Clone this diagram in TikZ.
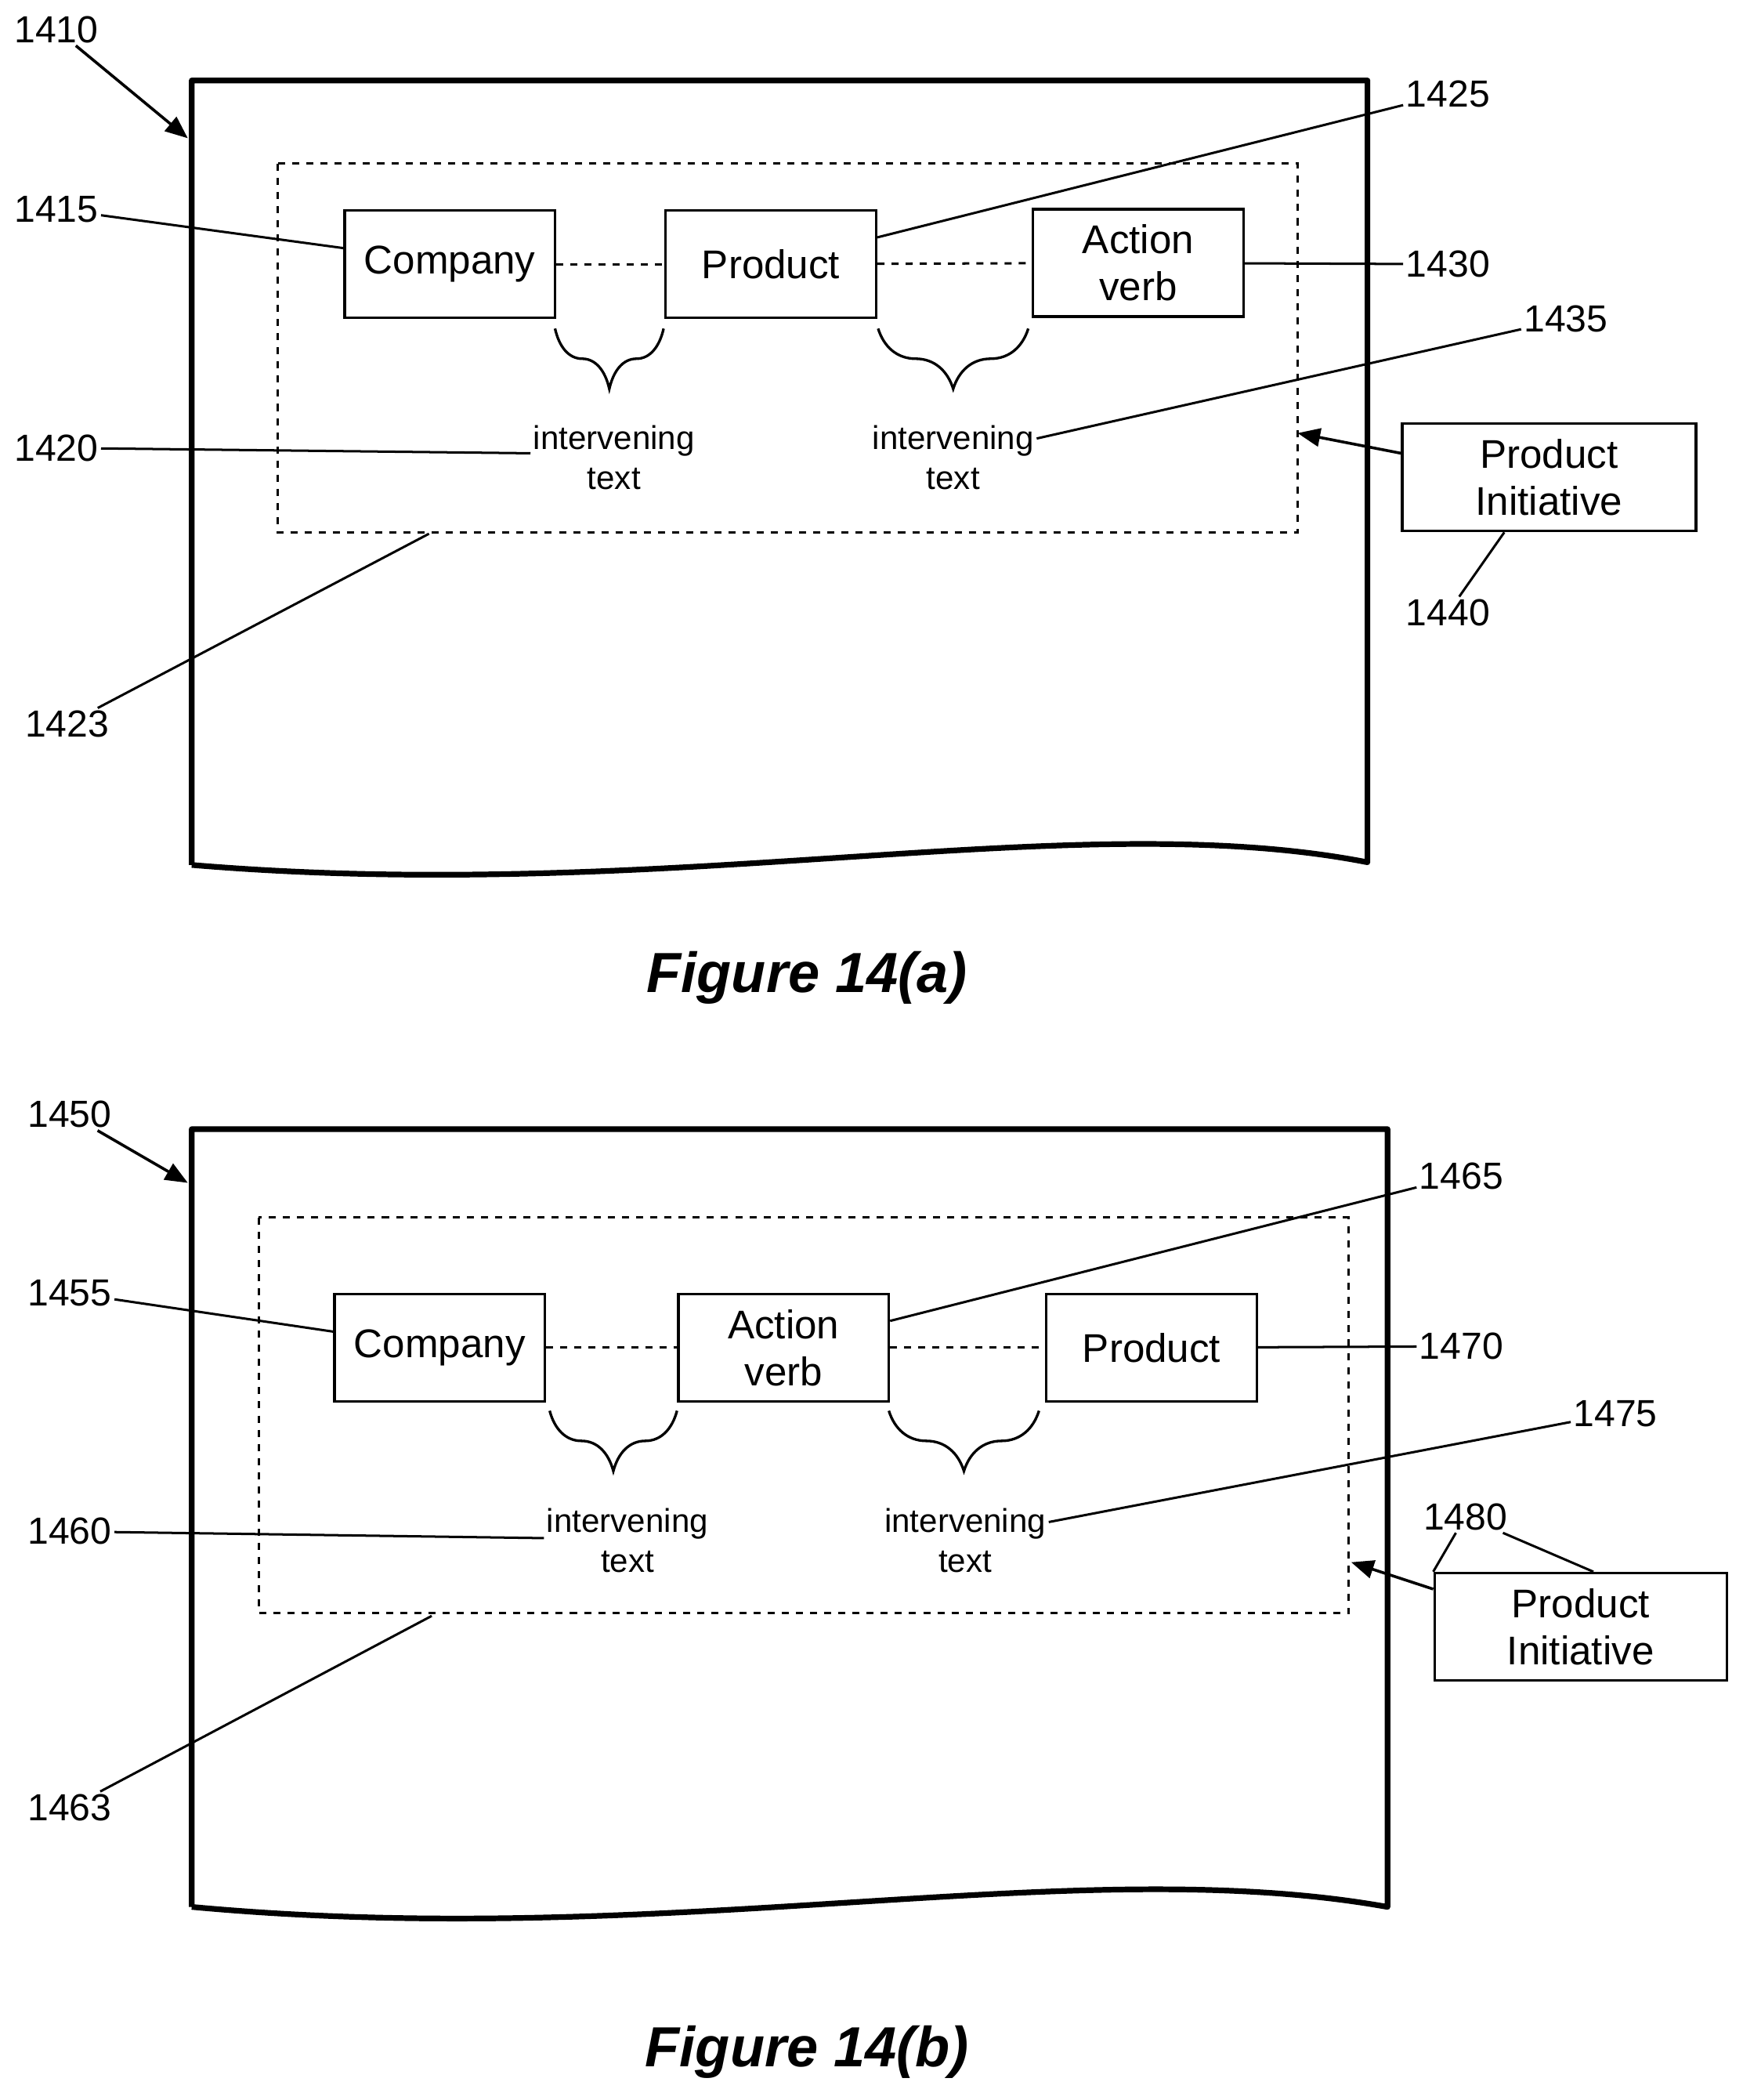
\documentclass[tikz,border=0pt]{standalone}
\usepackage{fontspec}
\setmainfont{Liberation Sans}
\usetikzlibrary{arrows,decorations.pathreplacing}
\tikzset{
  page/.style     = {line width=2.4pt,line join=round},
  term/.style     = {draw,line width=1.1pt,rectangle,minimum width=3.14cm,minimum height=1.6cm,align=center,inner sep=1pt,font=\fontsize{17}{20}\selectfont},
  group/.style    = {draw,dashed,line width=1pt},
  link/.style     = {dashed,line width=1pt},
  ref/.style      = {font=\fontsize{16}{19}\selectfont,inner sep=1pt},
  lead/.style     = {line width=1pt},
  pointer/.style  = {line width=1.2pt,-triangle 45},
  gap/.style      = {decorate,decoration={brace,mirror,amplitude=0.9cm},line width=1.1pt},
  note/.style     = {align=center,font=\fontsize{14}{17}\selectfont,inner sep=1pt},
  caption/.style  = {font=\fontsize{24}{28}\selectfont\bfseries\itshape}
}
\begin{document}
\begin{tikzpicture}[x=0.02cm,y=-0.02cm]
\useasboundingbox (0,0) rectangle (1300,1566);

% Figure 14(a)
\draw[page] (143,645) -- (143,60) -- (1020,60) -- (1020,643)
   .. controls (800,600) and (500,675) .. (143,645);
\draw[group] (207,122) rectangle (968,397);
\coordinate (G1) at (968,323);
\node[term] (C1) at (335.5,197) {Company};
\node[term] (P1) at (575,197) {Product};
\node[term] (A1) at (849,196) {Action\\verb};
\draw[link] (C1) -- (P1);
\draw[link] (P1) -- (A1);
\draw[gap] (414,245) -- (495,245);
\draw[gap] (655,245) -- (767,245);
\node[note] (T1) at (458,341) {intervening\\text};
\node[note] (T2) at (711,341) {intervening\\text};
\node[term,minimum width=4.38cm] (I1) at (1155.5,356) {Product\\Initiative};

\node[ref] (n1410) at (42,22) {1410};
\node[ref] (n1415) at (42,156) {1415};
\node[ref] (n1420) at (42,334) {1420};
\node[ref] (n1423) at (50,540) {1423};
\node[ref] (n1425) at (1080,70) {1425};
\node[ref] (n1430) at (1080,197) {1430};
\node[ref] (n1435) at (1168,238) {1435};
\node[ref] (n1440) at (1080,457) {1440};
\coordinate (b1) at (320,398);
\draw[pointer] (n1410) -- (140,103);
\draw[lead] (n1415) -- (C1.west |- 0,185);
\draw[lead] (n1420) -- (T1.west |- 0,338);
\draw[lead] (n1423) -- (b1);
\draw[lead] (n1425) -- (P1.east |- 0,177);
\draw[lead] (A1) -- (n1430);
\draw[lead] (n1435) -- (T2.east |- 0,327);
\draw[pointer] (I1.west |- 0,338) -- (G1);
\draw[lead] (I1.south west) ++(77,0) -- (n1440);
\node[caption] (F1) at (602,729) {Figure 14(a)};

% Figure 14(b)
\draw[page] (143,1422) -- (143,842) -- (1035,842) -- (1035,1422)
   .. controls (800,1380) and (500,1455) .. (143,1422);
\draw[group] (193,908) rectangle (1006,1203);
\coordinate (G2) at (1008,1165);
\node[term] (C2) at (328,1005) {Company};
\node[term] (A2) at (584.5,1005) {Action\\verb};
\node[term] (P2) at (859,1005) {Product};
\draw[link] (C2) -- (A2);
\draw[link] (A2) -- (P2);
\draw[gap] (410,1052) -- (505,1052);
\draw[gap] (663,1052) -- (775,1052);
\node[note] (T3) at (468,1149) {intervening\\text};
\node[note] (T4) at (720,1149) {intervening\\text};
\node[term,minimum width=4.36cm] (I2) at (1179,1213) {Product\\Initiative};

\node[ref] (n1450) at (52,831) {1450};
\node[ref] (n1455) at (52,964) {1455};
\node[ref] (n1460) at (52,1142) {1460};
\node[ref] (n1463) at (52,1348) {1463};
\node[ref] (n1465) at (1090,877) {1465};
\node[ref] (n1470) at (1090,1004) {1470};
\node[ref] (n1475) at (1205,1054) {1475};
\node[ref] (n1480) at (1093,1131) {1480};
\coordinate (b2) at (322,1205);
\draw[pointer] (n1450) -- (140,882);
\draw[lead] (n1455) -- (C2.west |- 0,993);
\draw[lead] (n1460) -- (T3.west |- 0,1147);
\draw[lead] (n1463) -- (b2);
\draw[lead] (n1465) -- (A2.east |- 0,985);
\draw[lead] (P2) -- (n1470);
\draw[lead] (n1475) -- (T4.east |- 0,1135);
\draw[pointer] (I2.west |- 0,1185) -- (G2);
\draw[lead] (n1480) -- (I2.north west) ++(68,0);
\draw[lead] (n1480) -- ([xshift=68]I2.north west);
\node[caption] (F2) at (602,1530) {Figure 14(b)};
\end{tikzpicture}
\end{document}
